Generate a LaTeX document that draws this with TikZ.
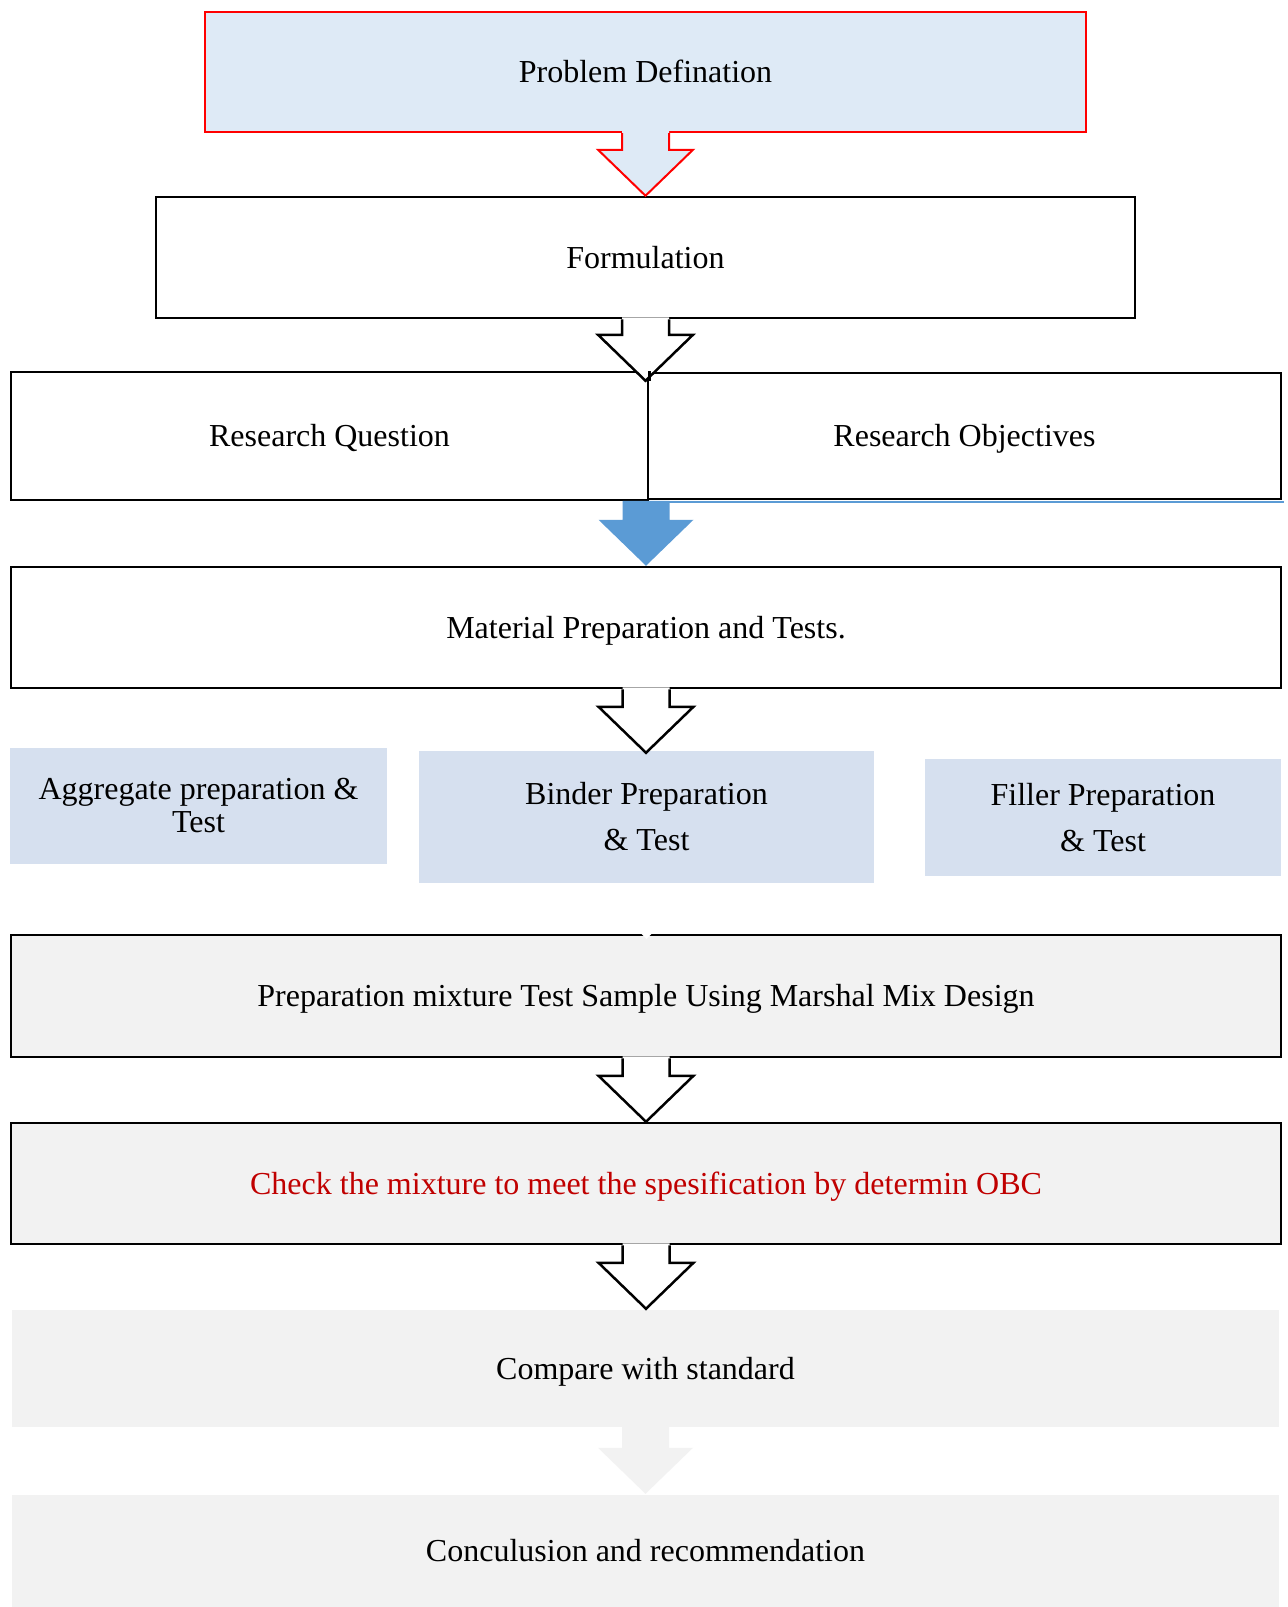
\documentclass[tikz,border=0pt]{standalone}
\usepackage{fontspec}
\setmainfont{Liberation Serif}
\usetikzlibrary{calc}
\definecolor{probfill}{HTML}{DEEAF6}
\definecolor{subfill}{RGB}{214,224,239}
\definecolor{greyfill}{HTML}{F2F2F2}
\definecolor{arrowblue}{HTML}{5B9BD5}
\definecolor{textred}{HTML}{C00000}
\tikzset{
  basebox/.style={draw=black, line width=2.5pt, fill=white, inner sep=0pt, align=center,
    font=\fontsize{32}{36}\selectfont},
  box/.style={basebox, text height=26pt, text depth=5pt},
  probbox/.style={box, draw=red, line width=2pt, fill=probfill},
  subbox/.style={basebox, draw=none, fill=subfill},
  greybox/.style={box, fill=greyfill},
  plainbox/.style={box, draw=none, fill=greyfill},
}
% #1 fill colour, #2 outline options, #3 top-centre point, #4 tip point (bare name)
\newcommand\blockarrow[4]{%
  \coordinate (S) at #3;
  \coordinate (T) at (S |- #4);
  \fill[#1] ([xshift=-23.5pt,yshift=2pt]S) -- ([xshift=-23.5pt,yshift=46pt]T)
    -- ([xshift=-47.5pt,yshift=46pt]T) -- (T) -- ([xshift=47.5pt,yshift=46pt]T)
    -- ([xshift=23.5pt,yshift=46pt]T) -- ([xshift=23.5pt,yshift=2pt]S) -- cycle;
  \draw[#2] ([xshift=-23.5pt]S) -- ([xshift=-23.5pt,yshift=46pt]T)
    -- ([xshift=-47.5pt,yshift=46pt]T) -- (T) -- ([xshift=47.5pt,yshift=46pt]T)
    -- ([xshift=23.5pt,yshift=46pt]T) -- ([xshift=23.5pt]S);
}
\begin{document}
\begin{tikzpicture}[x=1pt,y=-1pt]
\useasboundingbox[fill=white] (0,0) rectangle (1288,1607);

\node[probbox, minimum width=881pt, minimum height=120pt] (prob) at (645.5,72) {Problem Defination};
\node[box, minimum width=979pt, minimum height=121pt] (form) at (645.5,257.5) {Formulation};
\node[box, minimum width=637pt, minimum height=128pt] (rq) at (329.5,436) {Research Question};
\node[box, minimum width=633pt, minimum height=126pt] (ro) at (964.5,436) {Research Objectives};
\node[box, minimum width=1270pt, minimum height=121pt] (mat) at (646,627.5) {Material Preparation and Tests.};
\node[subbox, minimum width=377pt, minimum height=116pt] (agg) at (198.5,806)
  {Aggregate preparation \&\\[-3pt] Test};
\node[subbox, minimum width=455pt, minimum height=132pt] (bind) at (646.5,817)
  {Binder Preparation\\[10pt] \& Test};
\node[subbox, minimum width=356pt, minimum height=117pt] (fill) at (1103,817.5)
  {Filler Preparation\\[10pt] \& Test};
\node[greybox, minimum width=1270pt, minimum height=122pt] (mix) at (646,996)
  {Preparation mixture Test Sample Using Marshal Mix Design};
\node[greybox, minimum width=1270pt, minimum height=121pt, text=textred] (chk) at (646,1183.5)
  {Check the mixture to meet the spesification by determin OBC};
\node[plainbox, minimum width=1267pt, minimum height=117pt] (cmp) at (645.5,1368.5) {Compare with standard};
\node[plainbox, minimum width=1267pt, minimum height=112pt] (conc) at (645.5,1551) {Conculusion and recommendation};

% blue underline of the objectives box
\draw[arrowblue, line width=2.5pt] (669,501.8) -- (1284,501.8);

% arrows
\blockarrow{probfill}{red, line width=2pt}{(prob.south)}{form.north}
\coordinate (rtip) at ([yshift=-10pt]rq.north east);
\blockarrow{white}{black, line width=2.5pt}{(form.south)}{rtip}
\draw[black, line width=2.5pt] (rtip) -- (rq.north east);
\coordinate (rbot) at (mat.north |- rq.south);
\blockarrow{arrowblue}{draw=none}{([yshift=-1.5pt]rbot)}{mat.north}
\coordinate (btip) at ([yshift=-3pt]bind.north);
\blockarrow{white}{black, line width=2.5pt}{(mat.south)}{btip}
\coordinate (mtip) at ([yshift=-5pt]mix.north);
\blockarrow{white}{draw=none}{([yshift=-20pt]bind.south)}{mtip}
\blockarrow{white}{black, line width=2.5pt}{(mix.south)}{chk.north}
\blockarrow{white}{black, line width=2.5pt}{(chk.south)}{cmp.north}
\blockarrow{greyfill}{draw=none}{(cmp.south)}{conc.north}
\end{tikzpicture}
\end{document}
